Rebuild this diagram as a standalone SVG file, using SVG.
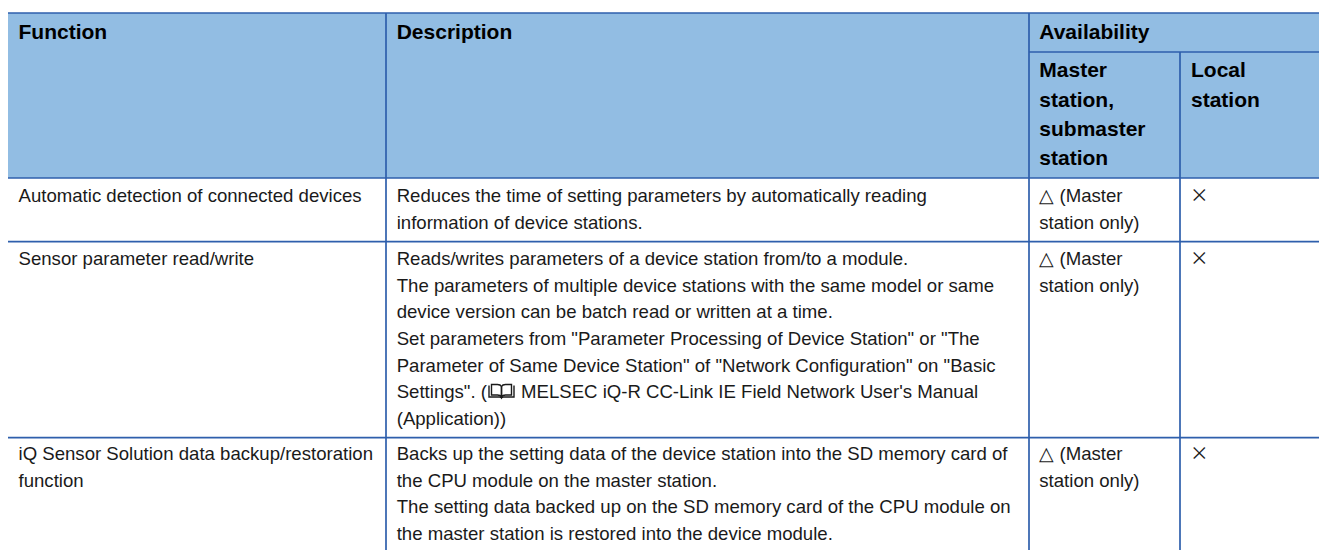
<svg xmlns="http://www.w3.org/2000/svg" width="1319" height="550" viewBox="0 0 1319 550">
<style>
.hd{font-family:"Liberation Sans",Arial,sans-serif;font-size:21px;font-weight:bold;fill:#000}
.tx{font-family:"Liberation Sans",Arial,sans-serif;font-size:18.6px;fill:#1a1a1a}
.x{font-family:"Noto Sans CJK JP","Liberation Sans",sans-serif;font-size:18.6px;fill:#1a1a1a}
.ln{stroke:#2e5fac;stroke-width:1.7;fill:none}
</style>
<rect width="1319" height="550" fill="#fff"/>
<g id="header">
<rect x="8" y="13" width="1311" height="165" fill="#92bde3"/>
<text class="hd" x="18.5" y="38.5">Function</text>
<text class="hd" x="396.7" y="38.5">Description</text>
<text class="hd" x="1039.3" y="38.5">Availability</text>
<text class="hd" x="1039.3" y="77.3">Master</text>
<text class="hd" x="1039.3" y="106.5">station,</text>
<text class="hd" x="1039.3" y="135.7">submaster</text>
<text class="hd" x="1039.3" y="165">station</text>
<text class="hd" x="1191" y="77.3">Local</text>
<text class="hd" x="1191" y="106.5">station</text>
</g>
<g id="row1">
<text class="tx" x="18.5" y="202.3">Automatic detection of connected devices</text>
<text class="tx" x="396.7" y="202.3">Reduces the time of setting parameters by automatically reading</text>
<text class="tx" x="396.7" y="229">information of device stations.</text>
<text class="tx" x="1039.3" y="202.3">△ (Master</text>
<text class="tx" x="1039.3" y="229">station only)</text>
<text class="x" x="1190" y="202.3">×</text>
</g>
<g id="row2">
<text class="tx" x="18.5" y="265">Sensor parameter read/write</text>
<text class="tx" x="396.7" y="265">Reads/writes parameters of a device station from/to a module.</text>
<text class="tx" x="396.7" y="291.7">The parameters of multiple device stations with the same model or same</text>
<text class="tx" x="396.7" y="318.3">device version can be batch read or written at a time.</text>
<text class="tx" x="396.7" y="345">Set parameters from "Parameter Processing of Device Station" or "The</text>
<text class="tx" x="396.7" y="371.7">Parameter of Same Device Station" of "Network Configuration" on "Basic</text>
<text class="tx" x="396.7" y="398.3">Settings". (</text>
<g id="book-icon" fill="none" stroke="#1a1a1a" stroke-width="1.4">
<path d="M489 385.5 v11.5 h10.5 q1.5 0 2 1 q0.5 -1 2 -1 h10.5 v-11.5"/>
<path d="M491.5 384.5 v10.5 h6 q3 0 4 2 v-10.5 q-1 -2 -4 -2 z"/>
<path d="M511.5 384.5 v10.5 h-6 q-3 0 -4 2 v-10.5 q1 -2 4 -2 z"/>
</g>
<text class="tx" x="521" y="398.3">MELSEC iQ-R CC-Link IE Field Network User's Manual</text>
<text class="tx" x="396.7" y="425">(Application))</text>
<text class="tx" x="1039.3" y="265">△ (Master</text>
<text class="tx" x="1039.3" y="291.7">station only)</text>
<text class="x" x="1190" y="265">×</text>
</g>
<g id="row3">
<text class="tx" x="18.5" y="460">iQ Sensor Solution data backup/restoration</text>
<text class="tx" x="18.5" y="486.7">function</text>
<text class="tx" x="396.7" y="460">Backs up the setting data of the device station into the SD memory card of</text>
<text class="tx" x="396.7" y="486.7">the CPU module on the master station.</text>
<text class="tx" x="396.7" y="513.3">The setting data backed up on the SD memory card of the CPU module on</text>
<text class="tx" x="396.7" y="540">the master station is restored into the device module.</text>
<text class="tx" x="1039.3" y="460">△ (Master</text>
<text class="tx" x="1039.3" y="486.7">station only)</text>
<text class="x" x="1190" y="460">×</text>
</g>
<g id="grid">
<line class="ln" x1="8" y1="13" x2="1319" y2="13"/>
<line class="ln" x1="1029" y1="52" x2="1319" y2="52"/>
<line class="ln" x1="8" y1="178" x2="1319" y2="178"/>
<line class="ln" x1="8" y1="241.6" x2="1319" y2="241.6"/>
<line class="ln" x1="8" y1="437.7" x2="1319" y2="437.7"/>
<line class="ln" x1="386" y1="13" x2="386" y2="550"/>
<line class="ln" x1="1029" y1="13" x2="1029" y2="550"/>
<line class="ln" x1="1180" y1="52" x2="1180" y2="550"/>
</g>
</svg>
